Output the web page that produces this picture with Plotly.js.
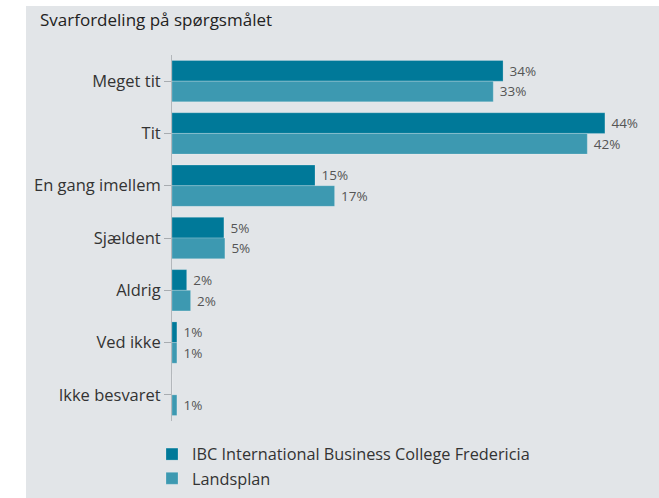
<!DOCTYPE html>
<html>
<head>
<meta charset="utf-8">
<script src="https://cdn.plot.ly/plotly-3.0.1.min.js"></script>
<style>
  html, body { margin: 0; padding: 0; background: #ffffff; }
  #bg { position: absolute; left: 26px; top: 6px; width: 633px; height: 492px; background: #e2e5e8; }
  #chart { position: absolute; left: 0; top: 0; width: 659px; height: 498px; }
</style>
</head>
<body>
<div id="bg"></div>
<div id="chart"></div>
<script>
const categories = ["Meget tit", "Tit", "En gang imellem", "Sjældent", "Aldrig", "Ved ikke", "Ikke besvaret"];
const seriesNames = ["IBC International Business College Fredericia", "Landsplan"];
const ibcValues = [33.8, 44.2, 14.6, 5.3, 1.5, 0.5, 0];
const landsplanValues = [32.8, 42.4, 16.6, 5.4, 1.9, 0.5, 0.5];
const ibcLabels = ["34%", "44%", "15%", "5%", "2%", "1%", ""];
const landsplanLabels = ["33%", "42%", "17%", "5%", "2%", "1%", "1%"];
const titleText = "Svarfordeling på spørgsmålet";

const FONT = "'Open Sans', Lato, sans-serif";

const traces = [
  {
    type: "bar", orientation: "h", name: seriesNames[0],
    y: categories, x: ibcValues, text: ibcLabels, texttemplate: "\u00a0%{text}",
    textposition: "outside", cliponaxis: false,
    textfont: {family: FONT, size: 13.5, color: "#555555"},
    marker: {color: "#007999", line: {color: "rgba(255,255,255,0.35)", width: 0.6}},
    hoverinfo: "none"
  },
  {
    type: "bar", orientation: "h", name: seriesNames[1],
    y: categories, x: landsplanValues, text: landsplanLabels, texttemplate: "\u00a0%{text}",
    textposition: "outside", cliponaxis: false,
    textfont: {family: FONT, size: 13.5, color: "#555555"},
    marker: {color: "#3d99b1", line: {color: "rgba(255,255,255,0.35)", width: 0.6}},
    hoverinfo: "none"
  }
];

const layout = {
  width: 659, height: 498,
  paper_bgcolor: "rgba(0,0,0,0)",
  plot_bgcolor: "rgba(0,0,0,0)",
  margin: {l: 172, r: 10, t: 55, b: 77, pad: 0, autoexpand: false},
  font: {family: FONT, size: 15, color: "#333333"},
  title: {
    text: titleText, font: {family: FONT, size: 17, color: "#222222"},
    xref: "container", yref: "container", x: 40/659, xanchor: "left", y: 1 - 20/498, yanchor: "middle"
  },
  barmode: "group", bargap: 0.21, bargroupgap: 0,
  showlegend: true,
  legend: {
    orientation: "v", xref: "container", x: 152/659, xanchor: "left",
    yref: "container", y: 1 - 437/498, yanchor: "top",
    bgcolor: "rgba(0,0,0,0)", font: {family: FONT, size: 16.3, color: "#333333"},
    traceorder: "normal", tracegroupgap: 0
  },
  xaxis: {
    range: [0, 48.7], showgrid: false, zeroline: false, showticklabels: false,
    showline: false, ticks: "", fixedrange: true
  },
  yaxis: {
    type: "category", autorange: "reversed", showgrid: false, zeroline: false,
    showline: true, linecolor: "#b3b7bb", linewidth: 1,
    ticks: "outside", ticklen: 7, tickcolor: "#a8acb0", tickwidth: 1,
    tickfont: {family: FONT, size: 16.5, color: "#333333"}, fixedrange: true
  }
};

Plotly.newPlot("chart", traces, layout, {displayModeBar: false, staticPlot: true});
</script>
</body>
</html>
